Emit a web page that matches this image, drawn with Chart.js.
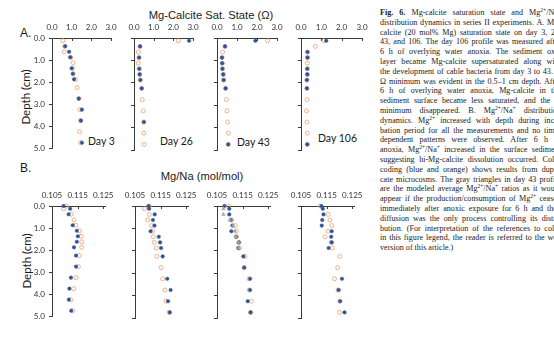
<!DOCTYPE html>
<html>
<head>
<meta charset="utf-8">
<script src="https://cdn.jsdelivr.net/npm/chart.js@4.4.1/dist/chart.umd.min.js"></script>
<style>
  body { margin: 0; width: 554px; height: 337px; overflow: hidden; background: #fff; position: relative; }
  canvas { position: absolute; }
  .lbl { position: absolute; white-space: nowrap; color: #1a1a1a; line-height: 1; }
  .ttl { font-family: "Liberation Sans", Arial, sans-serif; font-size: 11.2px; transform: translate(-50%, -50%); }
  .lett { font-family: "Liberation Sans", Arial, sans-serif; font-size: 12px; transform: translateY(-50%); }
  .depth { font-family: Lato, sans-serif; font-size: 11.5px; transform: translate(-50%, -50%) rotate(-90deg); }
  .day { font-family: Lato, sans-serif; font-size: 10.5px; transform: translateY(-50%); }
  #caption { position: absolute; left: 380px; top: 8px; width: 181px; font-family: "Liberation Serif", "Times New Roman", serif; font-size: 8.1px; line-height: 9.8px; color: #222; }
  #caption div { text-align: justify; text-align-last: justify; height: 9.8px; }
  #caption div.last { text-align-last: left; }
  #caption sup { font-size: 5.5px; line-height: 0; vertical-align: 3px; }
</style>
</head>
<body>

<div class="lbl ttl" style="left:211px; top:16px;">Mg-Calcite Sat. State (Ω)</div>
<div class="lbl lett" style="left:20px; top:33px;">A.</div>
<div class="lbl depth" style="left:26px; top:97px;">Depth (cm)</div>
<div class="lbl day" style="left:88px; top:141px;">Day 3</div>
<div class="lbl day" style="left:160px; top:141px;">Day 26</div>
<div class="lbl day" style="left:237px; top:142px;">Day 43</div>
<div class="lbl day" style="left:318px; top:138px;">Day 106</div>

<div class="lbl lett" style="left:20px; top:168px;">B.</div>
<div class="lbl ttl" style="left:202px; top:177px;">Mg/Na (mol/mol)</div>
<div class="lbl depth" style="left:27px; top:261px;">Depth (cm)</div>

<div id="caption">
  <div><b>Fig. 6.</b> Mg-calcite saturation state and Mg<sup>2+</sup>/Na<sup>+</sup></div>
  <div>distribution dynamics in series II experiments. A. Mg-</div>
  <div>calcite (20 mol% Mg) saturation state on day 3, 26,</div>
  <div>43, and 106. The day 106 profile was measured after</div>
  <div>6 h of overlying water anoxia. The sediment oxic</div>
  <div>layer became Mg-calcite supersaturated along with</div>
  <div>the development of cable bacteria from day 3 to 43. A</div>
  <div>Ω minimum was evident in the 0.5–1 cm depth. After</div>
  <div>6 h of overlying water anoxia, Mg-calcite in the</div>
  <div>sediment surface became less saturated, and the Ω</div>
  <div>minimum disappeared. B. Mg<sup>2+</sup>/Na<sup>+</sup> distribution</div>
  <div>dynamics. Mg<sup>2+</sup> increased with depth during incu-</div>
  <div>bation period for all the measurements and no time-</div>
  <div>dependent patterns were observed. After 6 h of</div>
  <div>anoxia, Mg<sup>2+</sup>/Na<sup>+</sup> increased in the surface sediment</div>
  <div>suggesting hi-Mg-calcite dissolution occurred. Color</div>
  <div>coding (blue and orange) shows results from dupli-</div>
  <div>cate microcosms. The gray triangles in day 43 profile</div>
  <div>are the modeled average Mg<sup>2+</sup>/Na<sup>+</sup> ratios as it would</div>
  <div>appear if the production/consumption of Mg<sup>2+</sup> ceased</div>
  <div>immediately after anoxic exposure for 6 h and then</div>
  <div>diffusion was the only process controlling its distri-</div>
  <div>bution. (For interpretation of the references to color</div>
  <div>in this figure legend, the reader is referred to the web</div>
  <div class="last">version of this article.)</div>
</div>

<script>
// depths (cm)
const depthSat = [0.125, 0.375, 0.625, 0.875, 1.125, 1.375, 1.625, 1.875, 2.25, 2.75, 3.25, 3.75, 4.25, 4.75];
const depthMgNa = [0, 0.125, 0.375, 0.625, 0.875, 1.125, 1.375, 1.625, 1.875, 2.25, 2.75, 3.25, 3.75, 4.25, 4.75];

// A. Mg-calcite saturation state (omega)
const satDay3Blue    = [null, 0.67, 0.87, 0.93, null, 1.00, 1.06, 1.12, null, 1.36, 1.52, 1.47, null, 1.52];
const satDay3Orange  = [0.55, 0.65, 0.62, 0.95, 1.07, 1.04, 1.08, 1.20, 1.28, 1.37, 1.42, 1.45, 1.40, 1.46];
const satDay26Blue   = [2.80, 0.31, null, 0.26, null, 0.27, 0.29, 0.32, 0.39, null, null, 0.50, null, null];
const satDay26Orange = [2.25, 0.30, 0.22, 0.25, 0.22, 0.26, 0.29, 0.33, 0.39, 0.42, 0.47, 0.50, 0.50, 0.52];
const satDay43Blue   = [1.92, 0.40, null, 0.25, 0.26, 0.27, 0.31, 0.33, 0.43, null, null, null, null, 0.56];
const satDay43Orange = [2.53, 0.40, 0.28, 0.25, 0.27, 0.28, 0.32, 0.34, 0.43, 0.47, 0.50, 0.53, 0.57, 0.57];
const satDay106Blue  = [1.24, null, 0.32, 0.32, null, 0.31, 0.31, 0.29, 0.29, null, null, null, null, 0.31];
const satDay106Orange= [1.13, 0.71, 0.32, 0.32, 0.31, 0.31, 0.31, 0.29, 0.29, 0.29, 0.27, 0.29, 0.31, 0.31];

// B. Mg/Na (mol/mol)
const mgnaDay3Blue    = [0.1095, 0.1121, 0.1115, null, 0.1131, 0.1147, 0.1151, 0.1147, 0.1136, 0.1144, 0.1144, 0.1124, 0.1118, 0.1116, 0.1125];
const mgnaDay3Orange  = [0.1105, 0.1095, 0.1125, 0.1136, 0.1143, 0.1157, 0.1164, 0.1166, 0.1166, 0.1156, 0.1153, 0.1144, 0.1135, 0.1124, 0.1130];
const mgnaDay26Blue   = [0.1103, 0.1105, 0.1127, 0.1120, 0.1126, 0.1111, 0.1143, 0.1148, 0.1152, 0.1158, null, 0.1176, 0.1189, 0.1179, 0.1186];
const mgnaDay26Orange = [0.1106, 0.1087, 0.1106, 0.1100, 0.1115, 0.1119, 0.1121, 0.1125, 0.1133, 0.1135, 0.1152, 0.1158, 0.1167, 0.1171, 0.1183];
const mgnaDay43Blue   = [0.1079, 0.1098, 0.1098, 0.1104, 0.1110, 0.1106, 0.1125, 0.1135, 0.1133, 0.1153, 0.1156, 0.1179, 0.1179, 0.1170, 0.1181];
const mgnaDay43Orange = [0.1095, null, null, 0.1108, 0.1121, 0.1125, 0.1126, 0.1136, 0.1138, 0.1159, 0.1157, 0.1175, 0.1176, 0.1184, 0.1182];
const mgnaDay43Model  = [null, 0.1075, 0.1075, 0.1100, 0.1112, 0.1120, 0.1124, 0.1134, 0.1135, null, null, null, null, null, null];
const mgnaDay106Blue  = [0.1130, 0.1135, 0.1138, 0.1133, 0.1131, 0.1170, 0.1168, 0.1170, 0.1158, null, null, 0.1210, 0.1197, 0.1203, 0.1220];
const mgnaDay106Orange= [0.1125, null, 0.1156, 0.1163, 0.1170, 0.1156, 0.1144, 0.1168, 0.1173, 0.1201, 0.1193, 0.1181, 0.1195, 0.1201, 0.1201];

const satTicks = [0, 1, 2, 3];
const mgnaTicks = [0.105, 0.115, 0.125];

const BLUE = '#2F5597';
const ORANGE = '#F0A77E';
const GRAY = '#A6A6A6';
const AXIS = '#3a3a3a';

function pts(depths, vals) {
  const out = [];
  depths.forEach((d, i) => { if (vals[i] !== null) out.push({ x: vals[i], y: d }); });
  return out;
}

function blueSet(data)   { return { data, pointRadius: 1.8, backgroundColor: BLUE, borderColor: BLUE, borderWidth: 0.4, clip: false }; }
function orangeSet(data) { return { data, pointRadius: 2.0, backgroundColor: 'rgba(255,255,255,0)', borderColor: ORANGE, borderWidth: 0.9, clip: false }; }
function modelSet(data)  { return { data, pointStyle: 'triangle', pointRadius: 2.2, backgroundColor: GRAY, borderColor: GRAY, borderWidth: 0.4, clip: false }; }

// x ticks hang down into the plot
const inwardTicks = {
  id: 'inwardTicks',
  afterDraw(chart) {
    const xs = chart.scales.x, a = chart.chartArea, c = chart.ctx;
    c.save();
    c.strokeStyle = AXIS;
    c.lineWidth = 1;
    xs.ticks.forEach(t => {
      const px = Math.round(xs.getPixelForValue(t.value)) + 0.5;
      c.beginPath();
      c.moveTo(px, a.top);
      c.lineTo(px, a.top + 3);
      c.stroke();
    });
    c.restore();
  }
};

function panel(box, xmin, xmax, tickVals, digits, showY, datasets) {
  const yw = 30, xh = 18, pr = 12, pb = 7;
  const cv = document.createElement('canvas');
  cv.width = yw + box.w + pr;
  cv.height = xh + box.h + pb;
  cv.style.left = (box.x - yw) + 'px';
  cv.style.top = (box.y - xh) + 'px';
  document.body.appendChild(cv);

  new Chart(cv, {
    type: 'scatter',
    data: { datasets },
    plugins: [inwardTicks],
    options: {
      responsive: false,
      animation: false,
      layout: { padding: { left: 0, top: 0, right: pr, bottom: pb } },
      plugins: { legend: { display: false }, tooltip: { enabled: false } },
      scales: {
        x: {
          type: 'linear',
          position: 'top',
          min: xmin,
          max: xmax,
          afterBuildTicks: s => { s.ticks = tickVals.map(v => ({ value: v })); },
          afterFit: s => { s.height = xh; },
          ticks: {
            padding: 6,
            color: '#333',
            font: { family: 'Lato', size: 8 },
            maxRotation: 0,
            callback: v => Number(v).toFixed(digits)
          },
          grid: { display: true, drawOnChartArea: false, drawTicks: false },
          border: { display: true, color: AXIS, width: 1 }
        },
        y: {
          type: 'linear',
          reverse: true,
          min: 0,
          max: 5,
          afterFit: s => { s.width = yw; },
          ticks: {
            stepSize: 1,
            display: showY,
            padding: 4,
            color: '#333',
            font: { family: 'Lato', size: 8 },
            callback: v => Number(v).toFixed(1)
          },
          grid: { display: true, drawOnChartArea: false, drawTicks: true, tickLength: 3, color: AXIS },
          border: { display: true, color: AXIS, width: 1 }
        }
      }
    }
  });
}

const topY = 38, botY = 206, rowH = 112;

panel({ x: 52,  y: topY, w: 59, h: rowH }, 0, 3, satTicks, 1, true,
  [blueSet(pts(depthSat, satDay3Blue)), orangeSet(pts(depthSat, satDay3Orange))]);
panel({ x: 134, y: topY, w: 59, h: rowH }, 0, 3, satTicks, 1, false,
  [blueSet(pts(depthSat, satDay26Blue)), orangeSet(pts(depthSat, satDay26Orange))]);
panel({ x: 217, y: topY, w: 60, h: rowH }, 0, 3, satTicks, 1, false,
  [blueSet(pts(depthSat, satDay43Blue)), orangeSet(pts(depthSat, satDay43Orange))]);
panel({ x: 301, y: topY, w: 61, h: rowH }, 0, 3, satTicks, 1, false,
  [blueSet(pts(depthSat, satDay106Blue)), orangeSet(pts(depthSat, satDay106Orange))]);

panel({ x: 52,  y: botY, w: 56, h: rowH }, 0.105, 0.126, mgnaTicks, 3, true,
  [blueSet(pts(depthMgNa, mgnaDay3Blue)), orangeSet(pts(depthMgNa, mgnaDay3Orange))]);
panel({ x: 135, y: botY, w: 56, h: rowH }, 0.105, 0.126, mgnaTicks, 3, false,
  [blueSet(pts(depthMgNa, mgnaDay26Blue)), orangeSet(pts(depthMgNa, mgnaDay26Orange))]);
panel({ x: 217, y: botY, w: 56, h: rowH }, 0.105, 0.126, mgnaTicks, 3, false,
  [modelSet(pts(depthMgNa, mgnaDay43Model)), blueSet(pts(depthMgNa, mgnaDay43Blue)), orangeSet(pts(depthMgNa, mgnaDay43Orange))]);
panel({ x: 301, y: botY, w: 56, h: rowH }, 0.105, 0.126, mgnaTicks, 3, false,
  [blueSet(pts(depthMgNa, mgnaDay106Blue)), orangeSet(pts(depthMgNa, mgnaDay106Orange))]);
</script>
</body>
</html>
